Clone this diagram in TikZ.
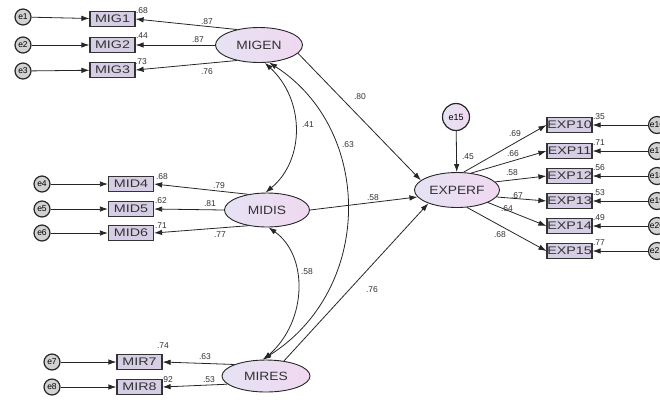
\documentclass[tikz,border=0pt]{standalone}
\usepackage{fontspec}
\setmainfont{Liberation Sans}
\newfontfamily\boxfont[FakeStretch=1.3]{Liberation Sans}
\newfontfamily\latfont[FakeStretch=1.15]{Liberation Sans}
\usetikzlibrary{arrows.meta,shapes.geometric}
\definecolor{latA}{RGB}{230,226,244}
\definecolor{latB}{RGB}{240,216,240}
\definecolor{boxfill}{RGB}{214,206,228}
\begin{document}
\begin{tikzpicture}[x=1pt,y=-1pt,
 lat/.style={ellipse,draw=black!85,line width=0.9pt,left color=latA,right color=latB,inner sep=0pt,font=\latfont\fontsize{12}{12}\selectfont,text=black!80},
 obs/.style={rectangle,draw=black!80,line width=1.2pt,fill=boxfill,minimum width=45pt,minimum height=15pt,inner sep=0pt,font=\boxfont\fontsize{11}{11}\selectfont,text=black!80},
 err/.style={circle,draw=black!85,line width=1.2pt,fill=gray!35,minimum size=16pt,inner sep=0pt,font=\fontsize{8.5}{8.5}\selectfont},
 lbl/.style={font=\fontsize{8.5}{9}\selectfont,inner sep=0.5pt,text=black!80},
 arr/.style={-{Latex[length=8pt,width=5.5pt]},line width=0.8pt,draw=black!85},
 dbl/.style={{Latex[length=8pt,width=5.5pt]}-{Latex[length=8pt,width=5.5pt]},line width=0.8pt,draw=black!85}]
\useasboundingbox (0,0) rectangle (660,400);

% latent variables
\node[lat,minimum width=87pt,minimum height=35pt] (MIGEN) at (259,45) {MIGEN};
\node[lat,minimum width=85pt,minimum height=34pt] (MIDIS) at (267,210) {MIDIS};
\node[lat,minimum width=88pt,minimum height=32pt] (MIRES) at (266,376) {MIRES};
\node[lat,minimum width=85pt,minimum height=35pt] (EXPERF) at (457,190) {EXPERF};
\node[err,left color=latA,right color=latB,minimum size=27pt,font=\fontsize{9}{9}\selectfont] (e15) at (456,117) {e15};

% MIGEN indicators
\node[obs] (MIG1) at (112.5,19) {MIG1};
\node[obs] (MIG2) at (112.5,45) {MIG2};
\node[obs] (MIG3) at (112.5,70) {MIG3};
\node[err] (e1) at (23,17) {e1};
\node[err] (e2) at (23,45) {e2};
\node[err] (e3) at (23,71) {e3};
\draw[arr] (e1) -- (MIG1);
\draw[arr] (e2) -- (MIG2);
\draw[arr] (e3) -- (MIG3);
\draw[arr] (MIGEN.145) -- (MIG1.east);
\draw[arr] (MIGEN.180) -- (MIG2.east);
\draw[arr] (MIGEN.215) -- (MIG3.east);
\node[lbl] (r1) at (142,11) {.68};
\node[lbl] (r2) at (142,36) {.44};
\node[lbl] (r3) at (141,62) {.73};
\node[lbl] (l1) at (207,22) {.87};
\node[lbl] (l2) at (198,40) {.87};
\node[lbl] (l3) at (207,72) {.76};

% MIDIS indicators
\node[obs] (MID4) at (131,184) {MID4};
\node[obs] (MID5) at (131,209) {MID5};
\node[obs] (MID6) at (131,233) {MID6};
\node[err] (e4) at (42,184) {e4};
\node[err] (e5) at (42,209) {e5};
\node[err] (e6) at (42,233) {e6};
\draw[arr] (e4) -- (MID4);
\draw[arr] (e5) -- (MID5);
\draw[arr] (e6) -- (MID6);
\draw[arr] (MIDIS.140) -- (MID4.east);
\draw[arr] (MIDIS.180) -- (MID5.east);
\draw[arr] (MIDIS.220) -- (MID6.east);
\node[lbl] (r4) at (162,177) {.68};
\node[lbl] (r5) at (161,201) {.62};
\node[lbl] (r6) at (161,226) {.71};
\node[lbl] (l4) at (219,186) {.79};
\node[lbl] (l5) at (210,204) {.81};
\node[lbl] (l6) at (220,235) {.77};

% MIRES indicators
\node[obs] (MIR7) at (139.5,362) {MIR7};
\node[obs] (MIR8) at (139.5,387) {MIR8};
\node[err] (e7) at (52,362) {e7};
\node[err] (e8) at (52,387) {e8};
\draw[arr] (e7) -- (MIR7);
\draw[arr] (e8) -- (MIR8);
\draw[arr] (MIRES.160) -- (MIR7.east);
\draw[arr] (MIRES.192) -- (MIR8.east);
\node[lbl] (r7) at (163,346) {.74};
\node[lbl] (r8) at (167,380) {.92};
\node[lbl] (l7) at (205,357) {.63};
\node[lbl] (l8) at (209,380) {.53};

% EXPERF indicators
\foreach \n/\y/\r/\l/\lx/\ly/\a [count=\i] in
 {10/125/.35/.69/515/134/70, 11/151/.71/.66/513/154/50, 12/176/.56/.58/512/173/12,
  13/201/.53/.67/517/196/-10, 14/226/.49/.64/507/209/-22, 15/251/.77/.68/500/235/-60}{
  \node[obs] (EXP\n) at (569.5,\y) {EXP\n};
  \node[err,minimum size=17pt] (e\the\numexpr\i+15\relax) at (657,\y) {e\the\numexpr\i+15\relax};
  \draw[arr] (e\the\numexpr\i+15\relax) -- (EXP\n.east);
  \draw[arr] (EXPERF.\a) -- (EXP\n.west);
  \node[lbl] (rx\n) at (599,\y-8) {\r};
  \node[lbl] (lx\n) at (\lx,\ly) {\l};
}
\draw[arr] (e15) -- (EXPERF);
\node[lbl] (l15) at (468,157) {.45};

% structural paths
\draw[arr] (MIGEN.-12) -- (EXPERF.165);
\draw[arr] (MIDIS.east) -- (EXPERF.190);
\draw[arr] (MIRES.40) -- (EXPERF.-155);
\node[lbl] (p1) at (360,97) {.80};
\node[lbl] (p2) at (373,198) {.58};
\node[lbl] (p3) at (372,290) {.76};

% covariances
\draw[dbl] (MIGEN.-72) .. controls (305,100) and (305,160) .. (MIDIS.95);
\draw[dbl] (MIGEN.-60) .. controls (374,130) and (374,290) .. (MIRES.102);
\draw[dbl] (MIDIS.-85) .. controls (308,255) and (308,320) .. (MIRES.98);
\node[lbl] (c1) at (308,125) {.41};
\node[lbl] (c2) at (348,145) {.63};
\node[lbl] (c3) at (307,272) {.58};
\end{tikzpicture}
\end{document}
